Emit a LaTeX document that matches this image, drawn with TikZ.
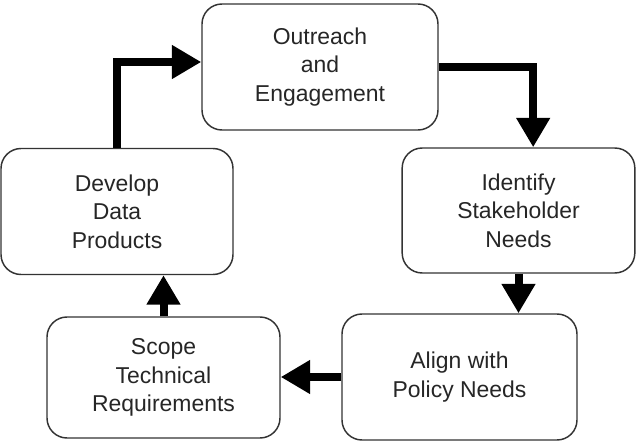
\documentclass[tikz,border=0pt]{standalone}
\usepackage{fontspec}
\setmainfont{Liberation Sans}
\usetikzlibrary{arrows.meta,calc}
\begin{document}
\begin{tikzpicture}[x=0.75pt,y=-0.75pt,
  box/.style={draw=black!80,line width=1.1pt,rounded corners=15pt,fill=white,
    inner sep=0pt,align=center,text=black!85,
    font=\fontsize{17.2pt}{21.4pt}\selectfont},
  arr/.style={line width=6pt,line join=miter,
    -{Triangle[length=22pt,width=24pt]}}]
\useasboundingbox (0,0) rectangle (636,442);
\node[box,minimum width=177pt,minimum height=94.5pt] (O) at (320,67) {Outreach\\and\\Engagement};
\node[box,minimum width=174.5pt,minimum height=93.75pt] (I) at (518.5,210.5) {Identify\\Stakeholder\\Needs};
\node[box,minimum width=176.25pt,minimum height=94.5pt] (A) at (459.5,377) {Align with\\Policy Needs};
\node[box,minimum width=174.75pt,minimum height=90.75pt] (S) at (163.5,377.5) {Scope\\Technical\\Requirements};
\node[box,minimum width=174pt,minimum height=94.5pt] (D) at (117,211.5) {Develop\\Data\\Products};
\draw[arr] (D.north) |- ([yshift=3.75pt]O.west);
\draw[arr] (O.east) -| ([xshift=11pt]I.north);
\draw[arr] (I.south) -- (I.south |- A.north);
\draw[arr] (A.west) -- (A.west -| S.east);
\draw[arr] (S.north) -- (S.north |- D.south);
\end{tikzpicture}
\end{document}
